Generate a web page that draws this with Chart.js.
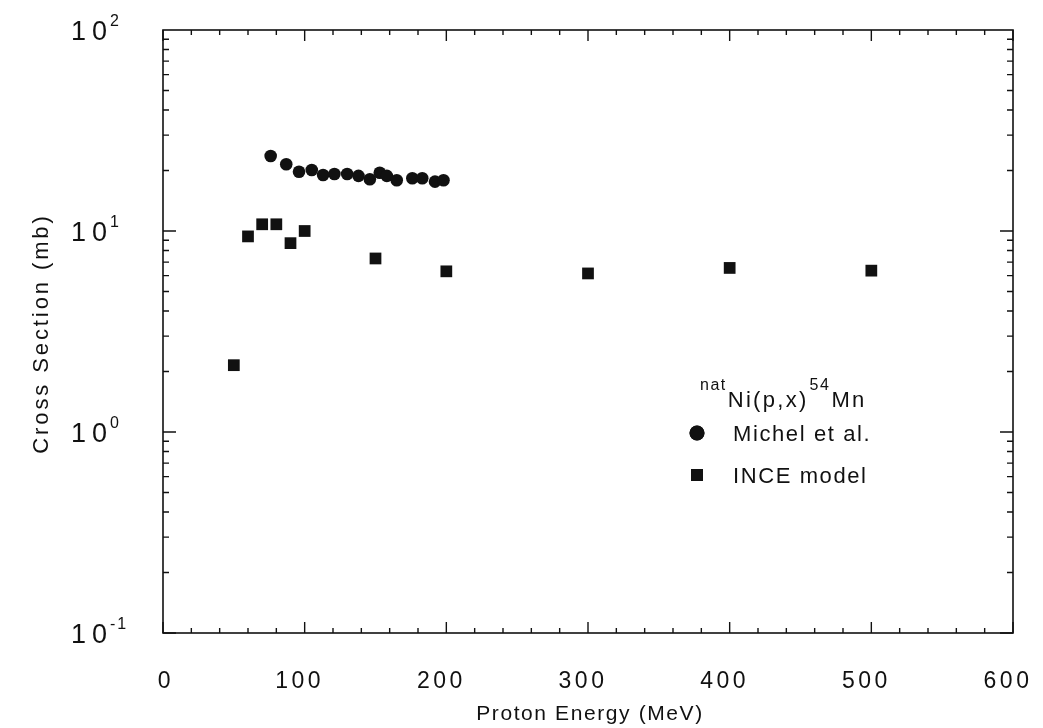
<!DOCTYPE html>
<html>
<head>
<meta charset="utf-8">
<script src="https://cdn.jsdelivr.net/npm/chart.js@4/dist/chart.umd.min.js"></script>
<style>
  html,body{margin:0;padding:0;background:#fff;}
  #wrap{width:1043px;height:728px;position:relative;}
</style>
</head>
<body>
<div id="wrap"><canvas id="c" width="1043" height="728"></canvas></div>
<script>
// --- data ---
const michelE  = [76, 87, 96, 105, 113, 121, 130, 138, 146, 153, 158, 165, 176, 183, 192, 198];
const michelXS = [23.6, 21.5, 19.7, 20.1, 19.0, 19.2, 19.2, 18.8, 18.1, 19.5, 18.8, 17.9, 18.3, 18.3, 17.6, 17.9];
const inceE  = [50, 60, 70, 80, 90, 100, 150, 200, 300, 400, 500];
const inceXS = [2.15, 9.4, 10.8, 10.8, 8.7, 10.0, 7.3, 6.3, 6.15, 6.55, 6.35];

const xTicks = [0, 100, 200, 300, 400, 500, 600];
const yDecades = [0.1, 1, 10, 100];
const yExp = ['-1', '0', '1', '2'];
const seriesNames = ['Michel et al.', 'INCE model'];
const reaction = [['sup', 'nat'], ['base', 'Ni(p,x)'], ['sup', '54'], ['base', 'Mn']];
const xTitle = 'Proton Energy (MeV)';
const yTitle = 'Cross Section (mb)';

const FONT = '"Liberation Sans", Arial, Helvetica, sans-serif';
const INK = '#111';

function text(ctx, s, x, y, size, spacing, align){
  ctx.font = size + 'px ' + FONT;
  ctx.letterSpacing = spacing + 'px';
  ctx.textAlign = align || 'left';
  ctx.fillText(s, x, y);
  return ctx.measureText(s).width;
}

// inward ticks, frame, all labels and the legend
const decor = {
  id: 'decor',
  afterDraw(chart){
    const {ctx, chartArea: a, scales: {x, y}} = chart;
    ctx.save();
    ctx.strokeStyle = INK; ctx.lineWidth = 1.6;
    ctx.strokeRect(a.left, a.top, a.right - a.left, a.bottom - a.top);
    ctx.lineWidth = 1.4;
    ctx.beginPath();
    for (let i = 0; i < yDecades.length - 1; i++) {
      for (let m = 1; m <= 9; m++) {
        const py = y.getPixelForValue(yDecades[i] * m);
        const len = m === 1 ? 13 : 6;
        ctx.moveTo(a.left, py); ctx.lineTo(a.left + len, py);
        ctx.moveTo(a.right, py); ctx.lineTo(a.right - len, py);
      }
    }
    for (let v = 0; v <= 600; v += 20) {
      const px = x.getPixelForValue(v);
      const len = v % 100 === 0 ? 11 : 5;
      ctx.moveTo(px, a.bottom); ctx.lineTo(px, a.bottom - len);
      ctx.moveTo(px, a.top); ctx.lineTo(px, a.top + len);
    }
    ctx.stroke();

    ctx.fillStyle = INK;
    ctx.textBaseline = 'alphabetic';

    // y tick labels 10^n
    yDecades.forEach((d, i) => {
      const py = y.getPixelForValue(d);
      const w = text(ctx, '10', 71, py + 10, 27, 6);
      text(ctx, yExp[i], 71 + w - 3, py - 4, 16, 2);
    });

    // x tick labels
    xTicks.forEach(v => {
      const px = x.getPixelForValue(v) - (v === 0 ? -3 : 5);
      text(ctx, String(v), px, 688, 23, 3.5, 'center');
    });

    // axis titles
    text(ctx, xTitle, (a.left + a.right) / 2 + 2, 720, 21, 1.6, 'center');
    ctx.save();
    ctx.translate(48, (a.top + a.bottom) / 2 + 2);
    ctx.rotate(-Math.PI / 2);
    text(ctx, yTitle, 0, 0, 22, 2.9, 'center');
    ctx.restore();

    // legend
    let tx = 700;
    reaction.forEach(([k, t]) => {
      const sup = k === 'sup';
      tx += text(ctx, t, tx, sup ? 390 : 407, sup ? 16 : 22, sup ? 1.5 : 2.3) + 1;
    });
    [433, 475].forEach((ry, i) => {
      const ds = chart.data.datasets[i];
      const r = i === 0 ? 7.5 : 8.5;
      Chart.helpers.drawPoint(ctx, {pointStyle: ds.pointStyle, radius: r, rotation: 0}, 697, ry);
      ctx.fillStyle = INK;
      ctx.fill();
      text(ctx, seriesNames[i], 733, ry + 8, 22, 1.6);
    });
    ctx.restore();
  }
};

new Chart(document.getElementById('c'), {
  type: 'scatter',
  data: {
    datasets: [
      {
        label: seriesNames[0],
        data: michelE.map((e, i) => ({x: e, y: michelXS[i]})),
        pointStyle: 'circle', pointRadius: 6.3, pointHoverRadius: 6.3,
        backgroundColor: INK, borderColor: INK, borderWidth: 0
      },
      {
        label: seriesNames[1],
        data: inceE.map((e, i) => ({x: e, y: inceXS[i]})),
        pointStyle: 'rect', pointRadius: 8.3, pointHoverRadius: 8.3,
        backgroundColor: INK, borderColor: INK, borderWidth: 0
      }
    ]
  },
  options: {
    responsive: false,
    animation: false,
    layout: {padding: {top: 30, right: 30, left: 0, bottom: 0}},
    plugins: {legend: {display: false}, tooltip: {enabled: false}},
    scales: {
      x: {
        type: 'linear', min: 0, max: 600,
        afterBuildTicks: s => { s.ticks = xTicks.map(v => ({value: v})); },
        grid: {display: false, drawTicks: false},
        border: {display: false},
        ticks: {display: false},
        afterFit: s => { s.height = 95; s.paddingLeft = 0; s.paddingRight = 0; }
      },
      y: {
        type: 'logarithmic', min: 0.1, max: 100,
        grid: {display: false, drawTicks: false},
        border: {display: false},
        ticks: {display: false},
        afterFit: s => { s.width = 163; s.paddingTop = 0; s.paddingBottom = 0; }
      }
    }
  },
  plugins: [decor]
});
</script>
</body>
</html>
